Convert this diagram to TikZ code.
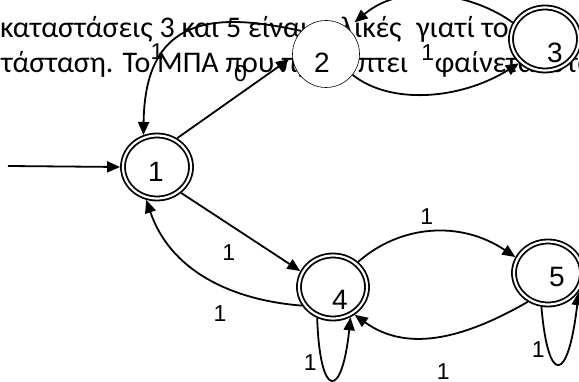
\documentclass[tikz,border=0pt]{standalone}
\usepackage{fontspec}
\setmainfont{Liberation Sans}
\newfontfamily\bodyfont{Carlito}
\usetikzlibrary{arrows.meta, shapes.geometric}

\begin{document}
\begin{tikzpicture}[x=1pt, y=-1pt]
    \tikzset{txt/.style={anchor=base west,inner sep=0pt,font=\bodyfont\fontsize{30}{36}\selectfont},
      num/.style={inner sep=0pt,font=\fontsize{28}{28}\selectfont},
      lbl/.style={inner sep=0pt,font=\fontsize{23}{23}\selectfont},
      acc/.style={ellipse,draw,fill=white,minimum width=68pt,minimum height=63pt,inner sep=0pt,outer sep=2.9pt,line width=1.8pt,double=white,double distance=2.2pt},
      plain/.style={circle,draw,fill=white,minimum size=67pt,inner sep=0pt,line width=0.6pt},
      arr/.style={line width=1.8pt,-{Triangle[length=13pt,width=11pt]}}}
    \fill[white] (0,0) rectangle (579,382);
    \useasboundingbox (0,0) rectangle (579,382);
    % text of the page behind the drawing
    \node[txt] (line1) at (0,38) {καταστάσεις 3 και 5 είναι τελικές\hspace{8pt} γιατί το};
    \node[txt] (line2) at (1,73) {τάσταση. Το ΜΠΑ που προκύπτει\hspace{20pt} φαίνεται στο};
    % states
    \node[acc,label={[num,xshift=-1pt,yshift=-5pt]center:1}] (q1) at (157,167) {};
    \node[plain,label={[num,xshift=-4pt,yshift=-9pt]center:2}] (q2) at (326,54) {};
    \node[acc,label={[num,xshift=10pt,yshift=-14pt]center:3}] (q3) at (545,39) {};
    \node[acc,label={[num,xshift=7pt,yshift=-13pt]center:4}] (q4) at (333,287) {};
    \node[acc,label={[num,xshift=9pt,yshift=-4pt]center:5}] (q5) at (548,273) {};
    \coordinate (start) at (8,166);
    % transitions
    \draw[arr] (start) -- (q1.west);
    \draw[arr,shorten >=4pt] (q1.55) -- node[lbl,pos=.55,yshift=20pt]{0} (q2.185);
    \draw[arr] (q2.137) .. controls (215,12) and (145,15) .. node[lbl,pos=.65,xshift=-11pt,yshift=-4pt]{1} (q1.113);
    \draw[arr] (q2.-38) .. controls (390,105) and (460,100) .. node[lbl,pos=.5,yshift=42pt]{1} (q3.223);
    \draw[arr,shorten >=9pt] (q3.153) .. controls (475,-5) and (405,-20) .. (q2.50);
    \draw[arr] (q1.-47) -- node[lbl,pos=.4,yshift=-28pt]{1} (q4.154);
    \draw[arr] (q4.211) .. controls (230,300) and (170,270) .. node[lbl,pos=.4,xshift=-3pt,yshift=-27pt]{1} (q1.252);
    \draw[arr] (q4.45) .. controls (400,225) and (460,220) .. node[lbl,pos=.5,xshift=-5pt,yshift=15pt]{1} (q5.154);
    \draw[arr] (q5.235) .. controls (470,335) and (410,355) .. node[lbl,pos=.5,xshift=3pt,yshift=-36pt]{1} (q4.-52);
    \draw[arr] (q4.-117) .. controls (320,400) and (342,400) .. node[lbl,pos=.25,xshift=-12pt,yshift=2pt]{1} (q4.-60);
    \draw[arr] (q5.-101) .. controls (548,385) and (568,385) .. node[lbl,pos=.3,xshift=-12pt,yshift=6pt]{1} (q5.-32);
\end{tikzpicture}
\end{document}
